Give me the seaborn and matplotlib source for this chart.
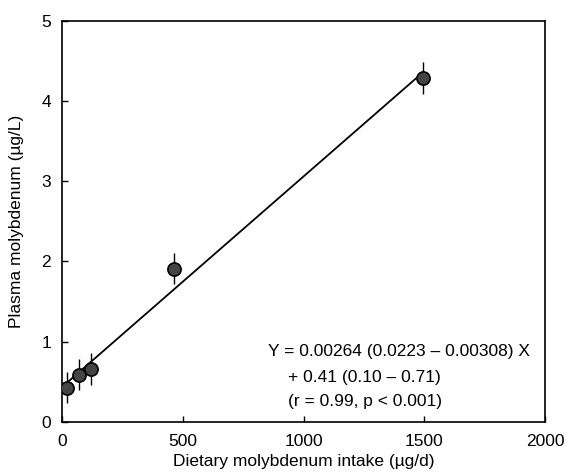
import matplotlib
matplotlib.use("Agg")
import matplotlib.pyplot as plt
import seaborn as sns
import numpy as np
import pandas as pd

intake = [19, 70, 120, 465, 1495]
plasma = [0.42, 0.59, 0.66, 1.91, 4.29]
err_low = [0.18, 0.19, 0.20, 0.19, 0.20]
err_high = [0.20, 0.19, 0.20, 0.19, 0.20]
xticks = [0, 500, 1000, 1500, 2000]
yticks = [0, 1, 2, 3, 4, 5]
eq_lines = ["Y = 0.00264 (0.0223 \u2013 0.00308) X",
            "+ 0.41 (0.10 \u2013 0.71)",
            "(r = 0.99, p < 0.001)"]

sns.set_theme(style="white")
plt.rcParams['font.family'] = ['Liberation Sans', 'DejaVu Sans']

df = pd.DataFrame({"x": intake, "y": plasma})

fig = plt.figure(figsize=(5.69, 4.73), dpi=100)
ax = fig.add_axes([0.109, 0.108, 0.849, 0.848])

sns.regplot(data=df, x="x", y="y", ax=ax, ci=None, scatter=False, truncate=True,
            line_kws=dict(color="black", lw=1.3))
ax.errorbar(intake, plasma, yerr=[err_low, err_high], fmt="none", ecolor="black",
            elinewidth=1.0, capsize=0, zorder=3)
sns.scatterplot(data=df, x="x", y="y", ax=ax, s=90, color="#444444",
                edgecolor="black", linewidth=1.2, zorder=4, legend=False)

ax.set_xlim(0, 2000)
ax.set_ylim(0, 5)
ax.set_xticks(xticks)
ax.set_yticks(yticks)
ax.tick_params(direction="in", length=4, width=1, labelsize=12.5, colors="black",
               bottom=True, left=True, top=False, right=False)
ax.tick_params(axis="x", pad=9)
ax.tick_params(axis="y", pad=8)
for s in ax.spines.values():
    s.set_color("black")
    s.set_linewidth(1.2)
ax.set_xlabel("Dietary molybdenum intake (\u00b5g/d)", fontsize=12.5, color="black", labelpad=3)
ax.set_ylabel("Plasma molybdenum (\u00b5g/L)", fontsize=12.5, color="black", labelpad=12)

ax.text(853, 0.88, eq_lines[0], fontsize=12.5, ha="left", va="center", color="black")
ax.text(935, 0.55, eq_lines[1], fontsize=12.5, ha="left", va="center", color="black")
ax.text(935, 0.26, eq_lines[2], fontsize=12.5, ha="left", va="center", color="black")

fig.savefig("out.png", dpi=100)
